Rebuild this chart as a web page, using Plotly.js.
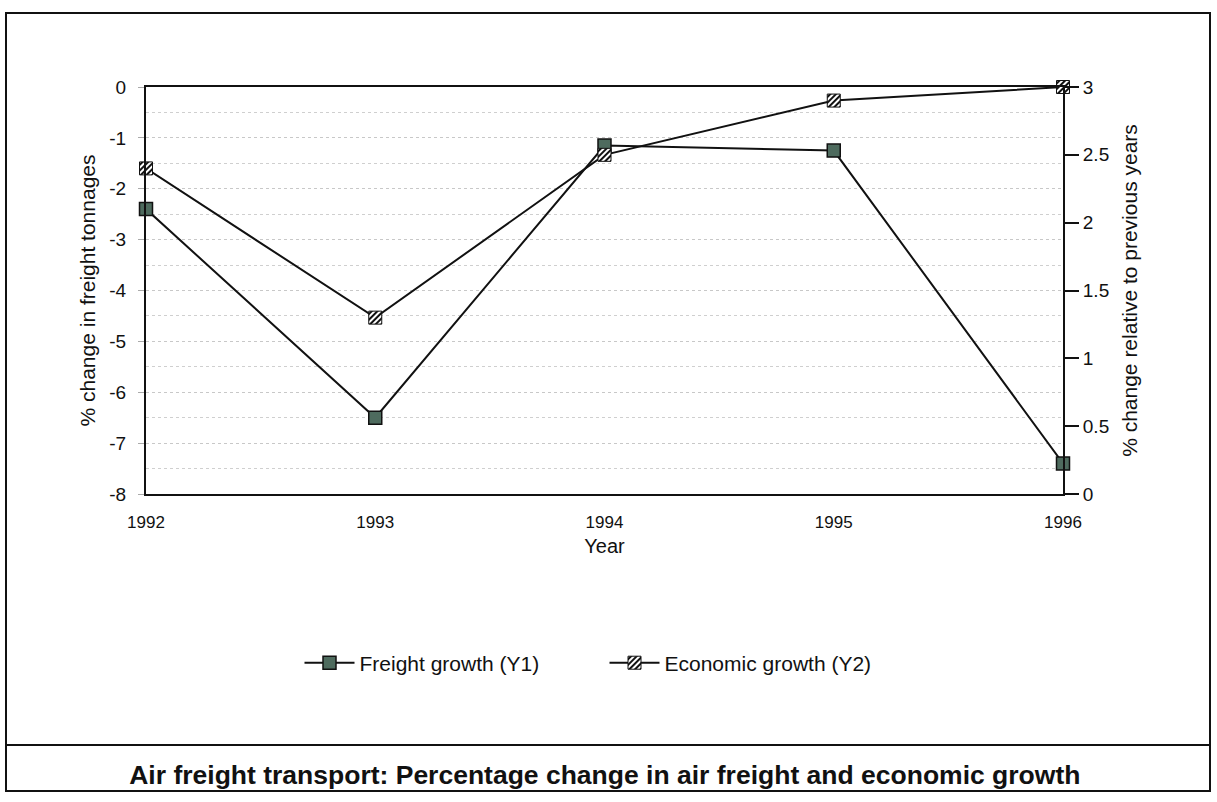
<!DOCTYPE html>
<html>
<head>
<meta charset="utf-8">
<script src="https://cdn.plot.ly/plotly-3.0.1.min.js"></script>
<style>
  html, body { margin: 0; padding: 0; background: #fff; }
  #wrap { position: relative; width: 1217px; height: 802px; }
  #chart { position: absolute; left: 0; top: 0; width: 1217px; height: 802px; }
  #frame { position: absolute; left: 5px; top: 12px; width: 1202px; height: 776px; border: 2px solid #111; pointer-events: none; }
  #sep { position: absolute; left: 5px; top: 744px; width: 1206px; height: 0; border-top: 2px solid #111; pointer-events: none; }
</style>
</head>
<body>
<div id="wrap">
  <div id="chart"></div>
  <div id="frame"></div>
  <div id="sep"></div>
</div>
<script>
const years = [1992, 1993, 1994, 1995, 1996];
const freightGrowth = [-2.4, -6.5, -1.15, -1.25, -7.4];
const economicGrowth = [2.4, 1.3, 2.5, 2.9, 3.0];
const yTickVals = [0, -1, -2, -3, -4, -5, -6, -7, -8];
const y2TickVals = [0, 0.5, 1, 1.5, 2, 2.5, 3];
const y2TickText = ["0", "0.5", "1", "1.5", "2", "2.5", "3"];

const FONT = "Liberation Sans, Arial, Helvetica, sans-serif";

const traces = [
  {
    x: years, y: freightGrowth, name: "Freight growth (Y1)", type: "scatter", mode: "lines+markers",
    line: { color: "#111", width: 2 }, cliponaxis: false,
    marker: { symbol: "square", size: 13, color: "#4e6b5e", line: { color: "#111", width: 1.5 } },
    yaxis: "y"
  },
  {
    x: years, y: economicGrowth, name: "Economic growth (Y2)", type: "scatter", mode: "lines+markers",
    line: { color: "#111", width: 2 }, cliponaxis: false,
    marker: { symbol: "square", size: 13, color: "#ffffff", line: { color: "#111", width: 1 } },
    yaxis: "y2"
  }
];

const layout = {
  width: 1217, height: 802,
  margin: { l: 146, r: 154, t: 87, b: 308 },
  paper_bgcolor: "#fff", plot_bgcolor: "#fff",
  font: { family: FONT, color: "#111", size: 17 },
  showlegend: true,
  title: {
    text: "<b>Air freight transport: Percentage change in air freight and economic growth</b>",
    x: 0.497, xanchor: "center", y: 1 - 775 / 802, yanchor: "middle", yref: "container",
    font: { family: FONT, size: 26.5, color: "#111" }
  },
  xaxis: {
    range: [1992, 1996], tickvals: years, ticktext: years.map(String),
    showgrid: false, zeroline: false,
    showline: true, linecolor: "#111", linewidth: 2, mirror: true,
    ticks: "", ticklabelstandoff: 12,
    tickfont: { size: 17, color: "#111" },
    title: { text: "Year", font: { size: 20, color: "#111" }, standoff: 8 }
  },
  yaxis: {
    range: [-8, 0], tickvals: yTickVals, ticktext: yTickVals.map(String),
    showgrid: true, gridcolor: "#c8c8c8", griddash: "dot", gridwidth: 1,
    minor: { dtick: 0.5, showgrid: true, gridcolor: "#cfcfcf", griddash: "dot" },
    zeroline: false,
    showline: true, linecolor: "#111", linewidth: 2, mirror: true,
    ticks: "outside", ticklen: 6, tickcolor: "#aaa", ticklabelstandoff: 8,
    tickfont: { size: 19, color: "#111" },
    title: { text: "% change in freight tonnages", font: { size: 21, color: "#111" }, standoff: 8 }
  },
  yaxis2: {
    range: [0, 3], tickvals: y2TickVals, ticktext: y2TickText,
    overlaying: "y", side: "right",
    showgrid: false, zeroline: false,
    showline: true, linecolor: "#111", linewidth: 2,
    ticks: "outside", ticklen: 14, tickcolor: "#111", tickwidth: 2,
    tickfont: { size: 19, color: "#111" },
    title: { text: "% change relative to previous years", font: { size: 21, color: "#111" }, standoff: 14 }
  },
  yaxis3: {
    range: [0, 3], tickvals: y2TickVals, overlaying: "y", side: "right", anchor: "x",
    showgrid: false, zeroline: false, showline: false, showticklabels: false,
    ticks: "inside", ticklen: 12, tickcolor: "#111", tickwidth: 2
  },
  legend: {
    orientation: "h", x: 0.5, xanchor: "center", y: -0.365, yanchor: "top",
    font: { size: 21, color: "#111" }, itemwidth: 50, entrywidth: 240, entrywidthmode: "pixels",
    bgcolor: "rgba(0,0,0,0)"
  }
};

Plotly.newPlot("chart", traces, layout, { displayModeBar: false, staticPlot: true }).then(function (gd) {
  const svgNS = "http://www.w3.org/2000/svg";
  const svg = gd.querySelector("svg.main-svg");
  let defs = svg.querySelector("defs");
  if (!defs) { defs = document.createElementNS(svgNS, "defs"); svg.insertBefore(defs, svg.firstChild); }
  const pat = document.createElementNS(svgNS, "pattern");
  pat.setAttribute("id", "hatchPat");
  pat.setAttribute("patternUnits", "userSpaceOnUse");
  pat.setAttribute("width", "4"); pat.setAttribute("height", "4");
  pat.setAttribute("patternTransform", "rotate(45)");
  const bg = document.createElementNS(svgNS, "rect");
  bg.setAttribute("width", "4"); bg.setAttribute("height", "4"); bg.setAttribute("fill", "#fff");
  const ln = document.createElementNS(svgNS, "rect");
  ln.setAttribute("width", "2"); ln.setAttribute("height", "4"); ln.setAttribute("fill", "#111");
  pat.appendChild(bg); pat.appendChild(ln);
  defs.appendChild(pat);
  const tr = gd.querySelectorAll(".scatterlayer .trace");
  if (tr[1]) tr[1].querySelectorAll(".points path").forEach(p => { p.style.fill = "url(#hatchPat)"; });
  const leg = gd.querySelectorAll(".legend .traces");
  if (leg[1]) leg[1].querySelectorAll(".legendpoints path.scatterpts").forEach(p => { p.style.fill = "url(#hatchPat)"; });
});
</script>
</body>
</html>
